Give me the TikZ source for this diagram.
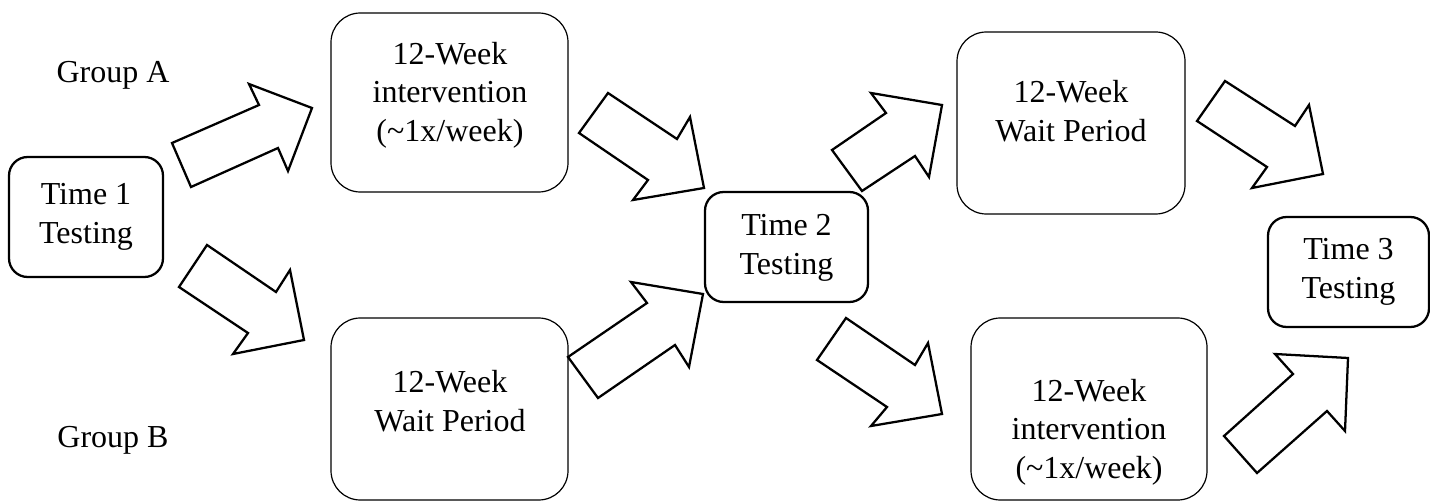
\documentclass[tikz,border=0pt]{standalone}
\usepackage{fontspec}
\setmainfont{Liberation Serif}
\begin{document}
\begin{tikzpicture}[x=0.75pt,y=-0.75pt,
  rbox/.style 2 args={draw=black, line width=0.9pt, rounded corners=22pt, minimum width=#1*0.75pt, minimum height=#2*0.75pt, inner sep=0pt},
  tbox/.style 2 args={draw=black, line width=1.7pt, rounded corners=14pt, minimum width=#1*0.75pt, minimum height=#2*0.75pt, inner sep=0pt},
  txt/.style={align=center, inner sep=0pt, font=\fontsize{24pt}{29pt}\selectfont},
  blockarrow/.style={draw=black, line width=1.7pt, line join=miter, fill=white}]
\useasboundingbox (0,0) rectangle (1430,502);

% boxes
\node[tbox={154}{120}] (t1) at (86,217) {};
\node[rbox={237}{179}] (ia) at (449.5,102.5) {};
\node[rbox={237}{182}] (wb) at (449.5,409) {};
\node[tbox={163}{110}] (t2) at (786.5,247) {};
\node[rbox={228}{182}] (wa) at (1071,123) {};
\node[rbox={236}{182}] (ib) at (1089,409) {};
\node[tbox={161}{110}] (t3) at (1348.5,272) {};

% texts
\node[txt] (ga) at (113,75) {Group A};
\node[txt] (gb) at (113,440) {Group B};
\node[txt] (t1t) at (t1) {Time 1\\Testing};
\node[txt] (iat) at (450,95) {12-Week\\intervention\\(\textasciitilde1x/week)};
\node[txt] (wbt) at (450,401) {12-Week\\Wait Period};
\node[txt] (t2t) at (786.5,248) {Time 2\\Testing};
\node[txt] (wat) at (1071,111) {12-Week\\Wait Period};
\node[txt] (ibt) at (1089,432) {12-Week\\intervention\\(\textasciitilde1x/week)};
\node[txt] (t3t) at (t3) {Time 3\\Testing};

% block arrows
\draw[blockarrow] (172,143) -- (259,105) -- (249,84) -- (312,108) -- (288,171) -- (278,148) -- (191,187) -- cycle;
\draw[blockarrow] (207,245) -- (276,292) -- (290,270) -- (304,340) -- (233,354) -- (248,333) -- (179,287) -- cycle;
\draw[blockarrow] (608,93) -- (677,139) -- (690,117) -- (704,188) -- (633,200) -- (648,180) -- (579,133) -- cycle;
\draw[blockarrow] (568,357) -- (647,303) -- (631,282) -- (703,294) -- (689,367) -- (675,345) -- (598,398) -- cycle;
\draw[blockarrow] (832,150) -- (886,113) -- (871,93) -- (942,105) -- (929,177) -- (915,156) -- (862,191) -- cycle;
\draw[blockarrow] (846,318) -- (915,365) -- (928,343) -- (942,414) -- (871,426) -- (887,407) -- (817,360) -- cycle;
\draw[blockarrow] (1225,81) -- (1295,126) -- (1309,105) -- (1323,174) -- (1252,188) -- (1267,167) -- (1197,121) -- cycle;
\draw[blockarrow] (1224,436) -- (1293,374) -- (1275,354) -- (1348,358) -- (1345,431) -- (1327,411) -- (1257,473) -- cycle;
\end{tikzpicture}
\end{document}
